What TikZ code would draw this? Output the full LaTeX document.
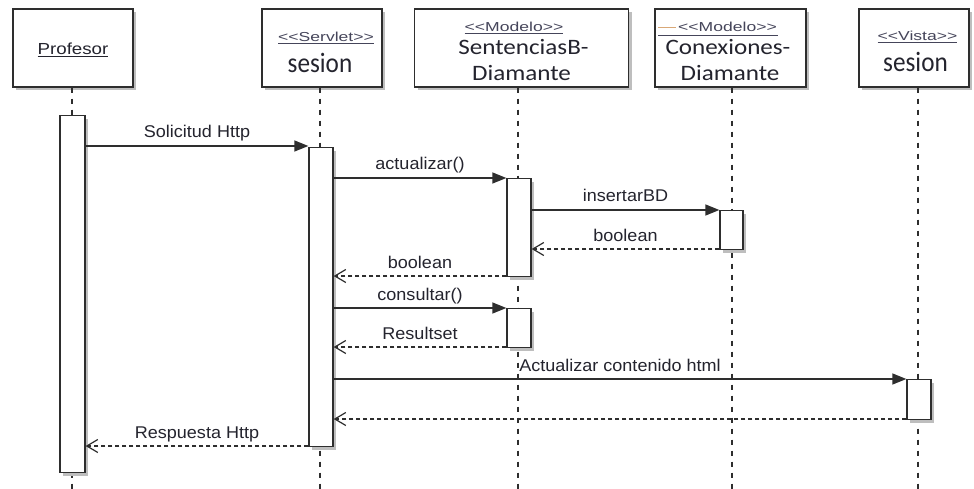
\documentclass[tikz,border=0pt]{standalone}
\usepackage{fontspec}
\setmainfont{Liberation Sans}
\newfontfamily\lblfont[FakeStretch=1.06]{Liberation Sans}
\newfontfamily\stfont[FakeStretch=1.35]{Liberation Sans}
\newfontfamily\proffont[FakeStretch=1.17]{Liberation Sans}
\newfontfamily\namefont[FakeStretch=1.14]{Carlito}
\newfontfamily\sesfont[FakeStretch=0.9]{Carlito}
\usetikzlibrary{arrows.meta,shadows}
\definecolor{ln}{HTML}{2E2E2E}
\definecolor{tx}{HTML}{24242E}
\definecolor{sttx}{HTML}{45455A}
\definecolor{shd}{HTML}{BEBEBE}
\definecolor{stray}{HTML}{D9A877}
\begin{document}
\begin{tikzpicture}[x=1pt,y=-1pt,
  objbox/.style={draw=ln, line width=1.3pt, fill=white, rectangle, inner sep=0pt,
    drop shadow={shadow xshift=3pt, shadow yshift=-3pt, fill=shd, opacity=1}},
  actbar/.style={objbox, anchor=north, minimum width=24pt},
  lifeline/.style={draw=ln, line width=1.5pt, dash pattern=on 5pt off 6pt},
  msg/.style={draw=ln, line width=1.3pt, -{Triangle[length=14pt,width=11pt]}},
  ret/.style={draw=ln, line width=1.2pt, dash pattern=on 4pt off 3pt,
    -{Straight Barb[length=11pt,width=13pt,line width=1.2pt]}},
  lbl/.style={text=tx, font=\lblfont\fontsize{17}{20}\selectfont, anchor=base, inner sep=0pt, midway, yshift=8pt},
  sttext/.style={text=sttx, font=\stfont\fontsize{13}{15}\selectfont, anchor=base, inner sep=0pt},
  nmtext/.style={text=tx, font=\namefont\fontsize{22}{26}\selectfont, anchor=base, inner sep=0pt},
  sestext/.style={text=tx, font=\sesfont\fontsize{28}{30}\selectfont, anchor=base, inner sep=0pt},
  proftext/.style={text=tx, font=\proffont\fontsize{16}{18}\selectfont, anchor=base, inner sep=0pt}
]
\fill[white] (0,0) rectangle (974,489);
\useasboundingbox (0,0) rectangle (974,489);

% object boxes
\node[objbox, minimum width=120pt, minimum height=78pt] (bP)  at (73,48) {};
\node[objbox, minimum width=120pt, minimum height=78pt] (bS)  at (322,48) {};
\node[objbox, minimum width=214pt, minimum height=78pt] (bSD) at (521.5,48) {};
\node[objbox, minimum width=151pt, minimum height=78pt] (bCD) at (730.5,48) {};
\node[objbox, minimum width=110pt, minimum height=78pt] (bV)  at (914,48) {};

% box texts
\node[proftext] (tP) at (73,54.3) {\underline{Profesor}};
\node[sttext] (tS1) at (326,41.7) {\underline{<<Servlet>>}};
\node[sestext] (tS2) at (320,73) {sesion};
\node[sttext] (tSD1) at (514,31.7) {\underline{<<Modelo>>}};
\node[nmtext] (tSD2) at (523.5,55) {SentenciasB-};
\node[nmtext] (tSD3) at (521.5,81) {Diamante};
\node[sttext] (tCD1) at (727.5,31.7) {<<Modelo>>};
\node[nmtext] (tCD2) at (728,55) {Conexiones-};
\node[nmtext] (tCD3) at (730,81) {Diamante};
\node[sttext] (tV1) at (917.5,41) {\underline{<<Vista>>}};
\node[sestext] (tV2) at (915.5,71.7) {sesion};
% underline and stray mark of the Conexiones stereotype
\coordinate (uCDa) at (658,35);
\coordinate (uCDb) at (778,35);
\draw[sttx, line width=0.8pt] (uCDa) -- (uCDb);
\coordinate (sCDa) at (658,27.5);
\coordinate (sCDb) at (676,27.5);
\draw[stray, line width=1pt] (sCDa) -- (sCDb);

% lifelines
\coordinate (eP)  at (72,489);
\coordinate (eS)  at (320,489);
\coordinate (eSD) at (518,489);
\coordinate (eCD) at (732,489);
\coordinate (eV)  at (918,489);
\draw[lifeline] (bP.south -| eP) -- (eP);
\draw[lifeline] (bS.south -| eS) -- (eS);
\draw[lifeline] (bSD.south -| eSD) -- (eSD);
\draw[lifeline] (bCD.south -| eCD) -- (eCD);
\draw[lifeline] (bV.south -| eV) -- (eV);

% activation bars
\node[actbar, minimum width=25pt, minimum height=357pt] (aP) at (72.5,115) {};
\node[actbar, minimum height=299pt] (aS) at (321,147) {};
\node[actbar, minimum height=98pt] (aSD1) at (519,178) {};
\node[actbar, minimum height=39pt] (aSD2) at (519,308) {};
\node[actbar, minimum width=23pt, minimum height=39pt] (aCD) at (731.5,210) {};
\node[actbar, minimum height=40pt] (aV) at (919,379) {};

% message rows
\coordinate (y1) at (0,146);
\coordinate (y2) at (0,178);
\coordinate (y3) at (0,210);
\coordinate (y4) at (0,249);
\coordinate (y5) at (0,276);
\coordinate (y6) at (0,308);
\coordinate (y7) at (0,347);
\coordinate (y8) at (0,379);
\coordinate (y9) at (0,419);
\coordinate (y10) at (0,446);

\draw[msg] (aP.east |- y1) -- node[lbl] (l1) {Solicitud Http} (aS.west |- y1);
\draw[msg] (aS.east |- y2) -- node[lbl] (l2) {actualizar()} (aSD1.west |- y2);
\draw[msg] (aSD1.east |- y3) -- node[lbl] (l3) {insertarBD} (aCD.west |- y3);
\draw[ret] (aCD.west |- y4) -- node[lbl] (l4) {boolean} (aSD1.east |- y4);
\draw[ret] (aSD1.west |- y5) -- node[lbl] (l5) {boolean} (aS.east |- y5);
\draw[msg] (aS.east |- y6) -- node[lbl] (l6) {consultar()} (aSD2.west |- y6);
\draw[ret] (aSD2.west |- y7) -- node[lbl] (l7) {Resultset} (aS.east |- y7);
\draw[msg] (aS.east |- y8) -- node[lbl] (l8) {Actualizar contenido html} (aV.west |- y8);
\draw[ret] (aV.west |- y9) -- (aS.east |- y9);
\draw[ret] (aS.west |- y10) -- node[lbl] (l10) {Respuesta Http} (aP.east |- y10);
\end{tikzpicture}
\end{document}
